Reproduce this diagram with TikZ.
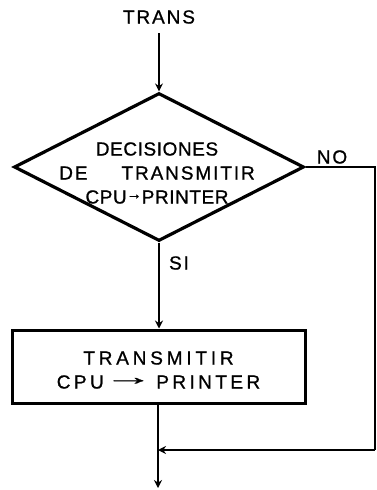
\documentclass[tikz,border=0pt]{standalone}
\usepackage{fontspec}
\usepackage{graphicx}
\setmainfont{Liberation Sans}[FakeBold=0.9]
\usetikzlibrary{shapes.geometric,arrows.meta}
\tikzset{
  lbl/.style={font=\fontsize{19}{24}\selectfont, inner sep=0pt, align=center},
  conn/.style={line width=2.4pt, -{Stealth[length=8pt,width=8pt]}},
  plain/.style={line width=2.4pt},
  decbox/.style={diamond, draw, line width=3.2pt, minimum width=290pt, minimum height=148pt, inner sep=0pt},
  procbox/.style={rectangle, draw, line width=3pt, minimum width=293pt, minimum height=73pt, inner sep=0pt}
}
\begin{document}
\begin{tikzpicture}[x=1pt,y=-1pt]
\useasboundingbox (0,0) rectangle (377,490);
\node[lbl] (trans) at (159,17) {\addfontfeature{LetterSpace=10}TRANS};
\node[decbox] (dec) at (159,167) {};
\node[lbl] (dectext) at (157,173) {\addfontfeature{LetterSpace=3}DECISIONES\\
\addfontfeature{LetterSpace=10}DE\hspace{34pt}TRANSMITIR\\
\addfontfeature{LetterSpace=3}CPU\raisebox{4.5pt}{\fontsize{15}{15}\selectfont →}PRINTER};
\node[lbl] (no) at (332,157) {\addfontfeature{LetterSpace=10}NO};
\node[lbl] (si) at (179,263) {\addfontfeature{LetterSpace=10}SI};
\node[procbox] (proc) at (158.5,366.5) {};
\node[lbl] (proctext) at (158.5,370) {\addfontfeature{LetterSpace=20}TRANSMITIR\\
\addfontfeature{LetterSpace=18}CPU\raisebox{4pt}{\scalebox{2.6}[1.2]{→}}\,PRINTER};
\coordinate (c1) at (375,167);
\coordinate (c2) at (375,450);
\coordinate (join) at (158,450);
\coordinate (out) at (158,488);
\draw[conn] (trans.south |- 0,33) -- (dec.north);
\draw[conn] (dec.south) -- (proc.north -| dec.south);
\draw[plain] (dec.east) -- (c1) -- (c2);
\draw[conn] (c2) -- (join);
\draw[conn] (proc.south -| join) -- (out);
\end{tikzpicture}
\end{document}
